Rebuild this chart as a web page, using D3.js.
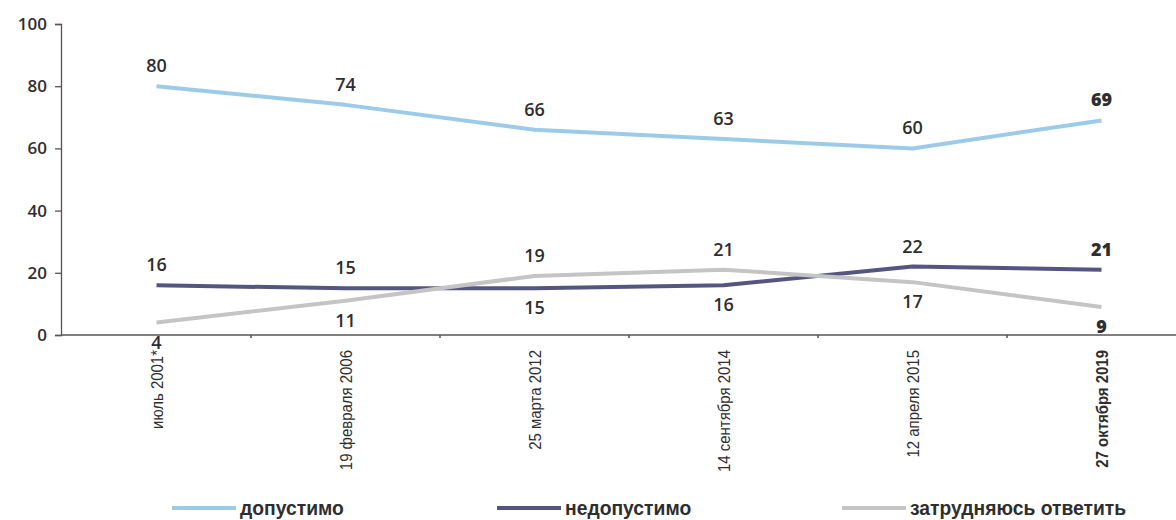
<!DOCTYPE html>
<html>
<head>
<meta charset="utf-8">
<script src="https://cdn.jsdelivr.net/npm/d3@7"></script>
<style>
  html, body { margin: 0; padding: 0; background: #fff; }
  svg { display: block; }
</style>
</head>
<body>
<svg id="chart" width="1176" height="520"></svg>
<script>
// Survey waves (x axis)
const categories = ["июль 2001*", "19 февраля 2006", "25 марта 2012", "14 сентября 2014", "12 апреля 2015", "27 октября 2019"];
// Answer shares, %
const acceptable = [80, 74, 66, 63, 60, 69];
const unacceptable = [16, 15, 15, 16, 22, 21];
const hardToSay = [4, 11, 19, 21, 17, 9];
const yTicks = [0, 20, 40, 60, 80, 100];
const seriesNames = ["допустимо", "недопустимо", "затрудняюсь ответить"];
// Label placement per point: 1 = above the line, -1 = below
const acceptablePos = [1, 1, 1, 1, 1, 1];
const unacceptablePos = [1, 1, -1, -1, 1, 1];
const hardToSayPos = [-1, -1, 1, 1, -1, -1];

const series = [
  { name: seriesNames[0], values: acceptable, pos: acceptablePos, color: "#9ccbea" },
  { name: seriesNames[1], values: unacceptable, pos: unacceptablePos, color: "#555581" },
  { name: seriesNames[2], values: hardToSay, pos: hardToSayPos, color: "#c4c4c4" }
];

const svg = d3.select("#chart");
const axisColor = "#555";
const textColor = "#2e2e2e";
const narrowFont = "'Liberation Sans', Arial, sans-serif";

const x = d3.scaleBand().domain(categories).range([62, 1196]);
const y = d3.scaleLinear().domain([0, 100]).range([335, 24]);
const cx = c => x(c) + x.bandwidth() / 2;

// Y axis
const yAxis = svg.append("g").attr("transform", "translate(61,0)")
  .call(d3.axisLeft(y).tickValues(yTicks).tickSize(6).tickPadding(8));
yAxis.select(".domain").attr("stroke", axisColor).attr("stroke-width", 1.3);
yAxis.selectAll(".tick line").attr("stroke", axisColor).attr("stroke-width", 1.3);
yAxis.selectAll(".tick text")
  .attr("fill", textColor)
  .style("font-family", "'Open Sans', sans-serif")
  .style("font-size", "17px")
  .style("font-weight", "600");

// X axis line with small ticks at band boundaries
svg.append("line")
  .attr("x1", 61).attr("x2", 1176)
  .attr("y1", y(0)).attr("y2", y(0))
  .attr("stroke", axisColor).attr("stroke-width", 1.6);
svg.append("g").selectAll("line")
  .data(categories.slice(1))
  .join("line")
  .attr("x1", d => x(d)).attr("x2", d => x(d))
  .attr("y1", y(0)).attr("y2", y(0) + 3)
  .attr("stroke", axisColor).attr("stroke-width", 1.5);

// Rotated, condensed category labels
svg.append("g").selectAll("text")
  .data(categories)
  .join("text")
  .attr("transform", d => `translate(${cx(d) + 6},350) rotate(-90) scale(0.88,1)`)
  .attr("text-anchor", "end")
  .attr("fill", textColor)
  .style("font-family", narrowFont)
  .style("font-size", "17px")
  .style("font-weight", (d, i) => i === categories.length - 1 ? "700" : "400")
  .text(d => d);

// Lines
const line = d3.line()
  .x((d, i) => cx(categories[i]))
  .y(d => y(d));

series.forEach(s => {
  svg.append("path")
    .datum(s.values)
    .attr("d", line)
    .attr("fill", "none")
    .attr("stroke", s.color)
    .attr("stroke-width", 4)
    .attr("stroke-linejoin", "round");
});

// Value labels
series.forEach(s => {
  svg.append("g").selectAll("text")
    .data(s.values)
    .join("text")
    .attr("x", (d, i) => cx(categories[i]))
    .attr("y", (d, i) => s.pos[i] > 0 ? y(d) - 14 : y(d) + 26)
    .attr("text-anchor", "middle")
    .attr("fill", textColor)
    .style("font-family", "'Open Sans', sans-serif")
    .style("font-size", "18px")
    .style("font-weight", (d, i) => i === categories.length - 1 ? "800" : "600")
    .text(d => d);
});

// Legend
const legendX = [172, 497, 842];
const legend = svg.append("g").selectAll("g")
  .data(series)
  .join("g")
  .attr("transform", (d, i) => `translate(${legendX[i]},508)`);
legend.append("line")
  .attr("x1", 0).attr("x2", 64)
  .attr("stroke", d => d.color).attr("stroke-width", 4);
legend.append("text")
  .attr("transform", "translate(68,7) scale(0.92,1)")
  .attr("fill", textColor)
  .style("font-family", narrowFont)
  .style("font-size", "21px")
  .style("font-weight", "700")
  .text(d => d.name);
</script>
</body>
</html>
